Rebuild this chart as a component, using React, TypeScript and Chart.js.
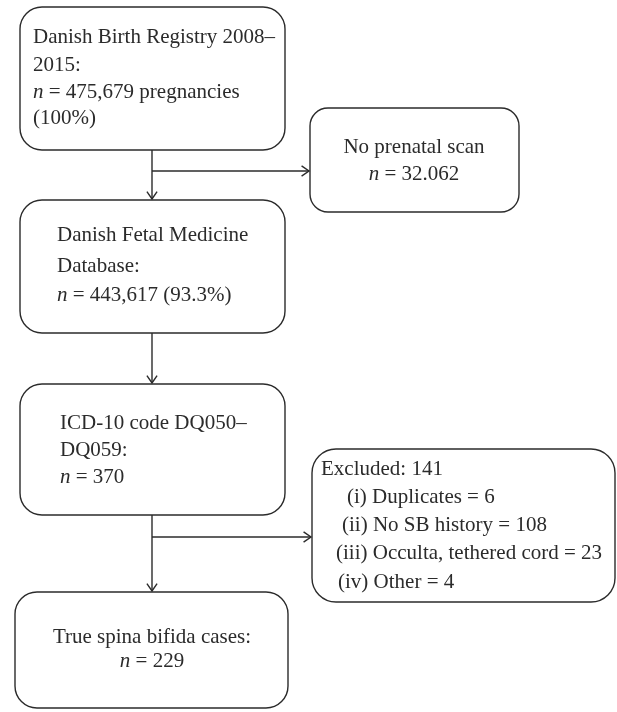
import React, { useEffect, useRef } from "react";
import { Chart, registerables } from "chart.js";

Chart.register(...registerables);

// ---- content (data) ----
const registryLines = ["Danish Birth Registry 2008–", "2015:", "n = 475,679 pregnancies", "(100%)"];
const noScanLines = ["No prenatal scan", "n = 32.062"];
const fetalDbLines = ["Danish Fetal Medicine", "Database:", "n = 443,617 (93.3%)"];
const icdLines = ["ICD-10 code DQ050–", "DQ059:", "n = 370"];
const excludedLines = [
  "Excluded: 141",
  "(i) Duplicates = 6",
  "(ii) No SB history = 108",
  "(iii) Occulta, tethered cord = 23",
  "(iv) Other = 4",
];
const trueCasesLines = ["True spina bifida cases:", "n = 229"];

// ---- layout (pixel-space values on a 617x712 linear grid) ----
type Box = {
  lines: string[];
  x: number; y: number; w: number; h: number; r: number;
  align: "left" | "center";
  size: number;
  tx: number[]; ty: number[];
};

const boxes: Box[] = [
  { lines: registryLines, x: 20, y: 7, w: 265, h: 143, r: 22, align: "left", size: 21, tx: [33, 33, 33, 33], ty: [37, 65, 92, 118] },
  { lines: noScanLines, x: 310, y: 108, w: 209, h: 104, r: 18, align: "center", size: 21, tx: [414, 414], ty: [147, 174] },
  { lines: fetalDbLines, x: 20, y: 200, w: 265, h: 133, r: 22, align: "left", size: 21, tx: [57, 57, 57], ty: [235, 266, 295] },
  { lines: icdLines, x: 20, y: 384, w: 265, h: 131, r: 22, align: "left", size: 21, tx: [60, 60, 60], ty: [423, 450, 477] },
  { lines: excludedLines, x: 312, y: 449, w: 303, h: 153, r: 24, align: "left", size: 21, tx: [321, 347, 342, 336, 338], ty: [469, 497, 525, 553, 582] },
  { lines: trueCasesLines, x: 15, y: 592, w: 273, h: 116, r: 22, align: "center", size: 21, tx: [152, 152], ty: [637, 661] },
];

// connectors: [x1, y1, x2, y2]
const connectors: number[][] = [
  [152, 150, 152, 199],
  [152, 171, 309, 171],
  [152, 333, 152, 383],
  [152, 515, 152, 591],
  [152, 537, 311, 537],
];

const FONT = "'Liberation Serif', 'DejaVu Serif', serif";
const INK = "#2b2b2b";

const flowPlugin = {
  id: "flow",
  afterDraw(chart: any) {
    const ctx: CanvasRenderingContext2D = chart.ctx;
    const sx = chart.scales.x;
    const sy = chart.scales.y;
    const px = (v: number) => sx.getPixelForValue(v);
    const py = (v: number) => sy.getPixelForValue(v);
    ctx.save();
    ctx.strokeStyle = INK;
    ctx.fillStyle = INK;
    ctx.lineWidth = 1.4;

    boxes.forEach((b) => {
      const x = px(b.x), y = py(b.y), x2 = px(b.x + b.w), y2 = py(b.y + b.h);
      ctx.beginPath();
      (ctx as any).roundRect(x, y, x2 - x, y2 - y, b.r);
      ctx.stroke();
      ctx.textBaseline = "middle";
      b.lines.forEach((line, i) => {
        const runs: { t: string; it: boolean }[] = [];
        if (line.startsWith("n = ")) {
          runs.push({ t: "n", it: true });
          runs.push({ t: " = " + line.slice(4), it: false });
        } else runs.push({ t: line, it: false });
        let total = 0;
        runs.forEach((r) => {
          ctx.font = `${r.it ? "italic " : ""}${b.size}px ${FONT}`;
          total += ctx.measureText(r.t).width;
        });
        let cx = b.align === "center" ? px(b.tx[i]) - total / 2 : px(b.tx[i]);
        const cy = py(b.ty[i]);
        runs.forEach((r) => {
          ctx.font = `${r.it ? "italic " : ""}${b.size}px ${FONT}`;
          ctx.textAlign = "left";
          ctx.fillText(r.t, cx, cy);
          cx += ctx.measureText(r.t).width;
        });
      });
    });

    connectors.forEach(([a, b, c, d]) => {
      const x1 = px(a), y1 = py(b), x2 = px(c), y2 = py(d);
      ctx.beginPath();
      ctx.moveTo(x1, y1);
      ctx.lineTo(x2, y2);
      ctx.stroke();
      const ang = Math.atan2(y2 - y1, x2 - x1);
      const L = 9, W = 0.6;
      ctx.beginPath();
      ctx.moveTo(x2 - L * Math.cos(ang - W), y2 - L * Math.sin(ang - W));
      ctx.lineTo(x2, y2);
      ctx.lineTo(x2 - L * Math.cos(ang + W), y2 - L * Math.sin(ang + W));
      ctx.stroke();
    });
    ctx.restore();
  },
};

export default function App() {
  const ref = useRef<HTMLCanvasElement | null>(null);
  useEffect(() => {
    if (!ref.current) return;
    const chart = new Chart(ref.current, {
      type: "scatter",
      data: { datasets: [{ data: [], pointRadius: 0 }] },
      options: {
        animation: false,
        responsive: true,
        maintainAspectRatio: false,
        layout: { padding: 0 },
        plugins: { legend: { display: false }, tooltip: { enabled: false } },
        scales: {
          x: { type: "linear", min: 0, max: 617, display: false },
          y: { type: "linear", min: 0, max: 712, reverse: true, display: false },
        },
      },
      plugins: [flowPlugin],
    });
    return () => chart.destroy();
  }, []);
  return (
    <div style={{ position: "fixed", left: 0, top: 0, width: 617, height: 712, background: "#fff" }}>
      <canvas ref={ref} />
    </div>
  );
}
